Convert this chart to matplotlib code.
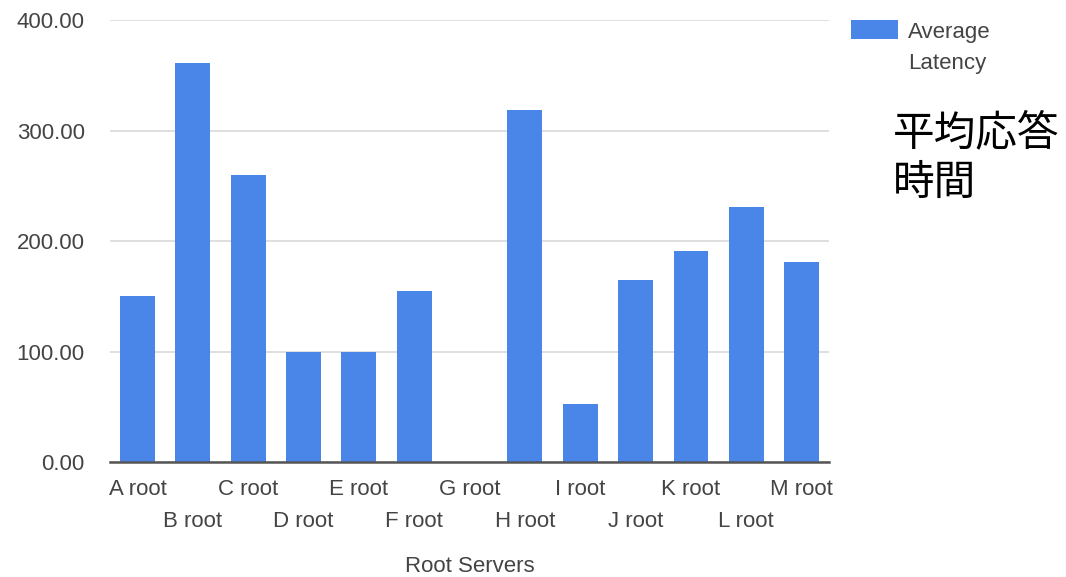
import matplotlib
matplotlib.use('Agg')
import matplotlib.pyplot as plt
from matplotlib.patches import Rectangle
from matplotlib.legend_handler import HandlerPatch
import numpy as np

servers = ['A root', 'B root', 'C root', 'D root', 'E root', 'F root', 'G root',
           'H root', 'I root', 'J root', 'K root', 'L root', 'M root']
latency = [150, 361, 260, 100, 100, 155, 0, 319, 53, 165, 191, 231, 181]
y_ticks = [0, 100, 200, 300, 400]

plt.rcParams['font.family'] = ['Liberation Sans', 'DejaVu Sans']

fig = plt.figure(figsize=(10.66, 5.77), dpi=100)
ax = fig.add_axes([0.103, 0.199, 0.675, 0.766])

x = np.arange(len(servers))
bars = ax.bar(x, latency, width=0.63, color='#4a86e8', label='Average\nLatency', zorder=3)

ax.set_xlim(-0.5, len(servers) - 0.5)
ax.set_ylim(0, 400)
ax.set_yticks(y_ticks)
ax.set_yticklabels(['%.2f' % v for v in y_ticks])
ax.yaxis.grid(True, color='#d9d9d9', linewidth=1.2, zorder=0)
ax.axhline(0, color='#555555', linewidth=1.8, zorder=4, clip_on=False)

ax.set_xticks(x)
ax.set_xticklabels(servers)
ax.tick_params(axis='both', length=0, labelsize=16, labelcolor='#444444')
ax.tick_params(axis='y', pad=18)
# stagger the category labels over two rows
for i, tick in enumerate(ax.xaxis.get_major_ticks()):
    tick.set_pad(12 if i % 2 == 0 else 35)

for side in ['top', 'right', 'left', 'bottom']:
    ax.spines[side].set_visible(False)

ax.set_xlabel('Root Servers', fontsize=16, color='#444444', va='top')
ax.xaxis.set_label_coords(0.5, -0.213)


# legend swatch sits level with the first line of the label
def top_swatch(legend, orig_handle, xdescent, ydescent, width, height, fontsize):
    return Rectangle((-xdescent, -ydescent + 13.5), width, height)


def copy_bar_style(handle, orig):
    handle.update_from(orig.patches[0])


leg = fig.legend(loc='upper left', bbox_to_anchor=(851 / 1066, 1 - 22 / 577),
                 frameon=False, fontsize=16, labelcolor='#444444',
                 handlelength=2.1, handleheight=0.95, handletextpad=0.45,
                 borderpad=0, borderaxespad=0,
                 handler_map={type(bars): HandlerPatch(patch_func=top_swatch,
                                                       update_func=copy_bar_style)})
for t in leg.get_texts():
    t.set_linespacing(1.6)

fig.text(893 / 1066, 1 - 113 / 577, '平均応答\n時間', fontsize=30,
         family=['Noto Sans CJK JP', 'DejaVu Sans'], color='black',
         va='top', ha='left', linespacing=1.28)

fig.savefig('out.png', dpi=100)
